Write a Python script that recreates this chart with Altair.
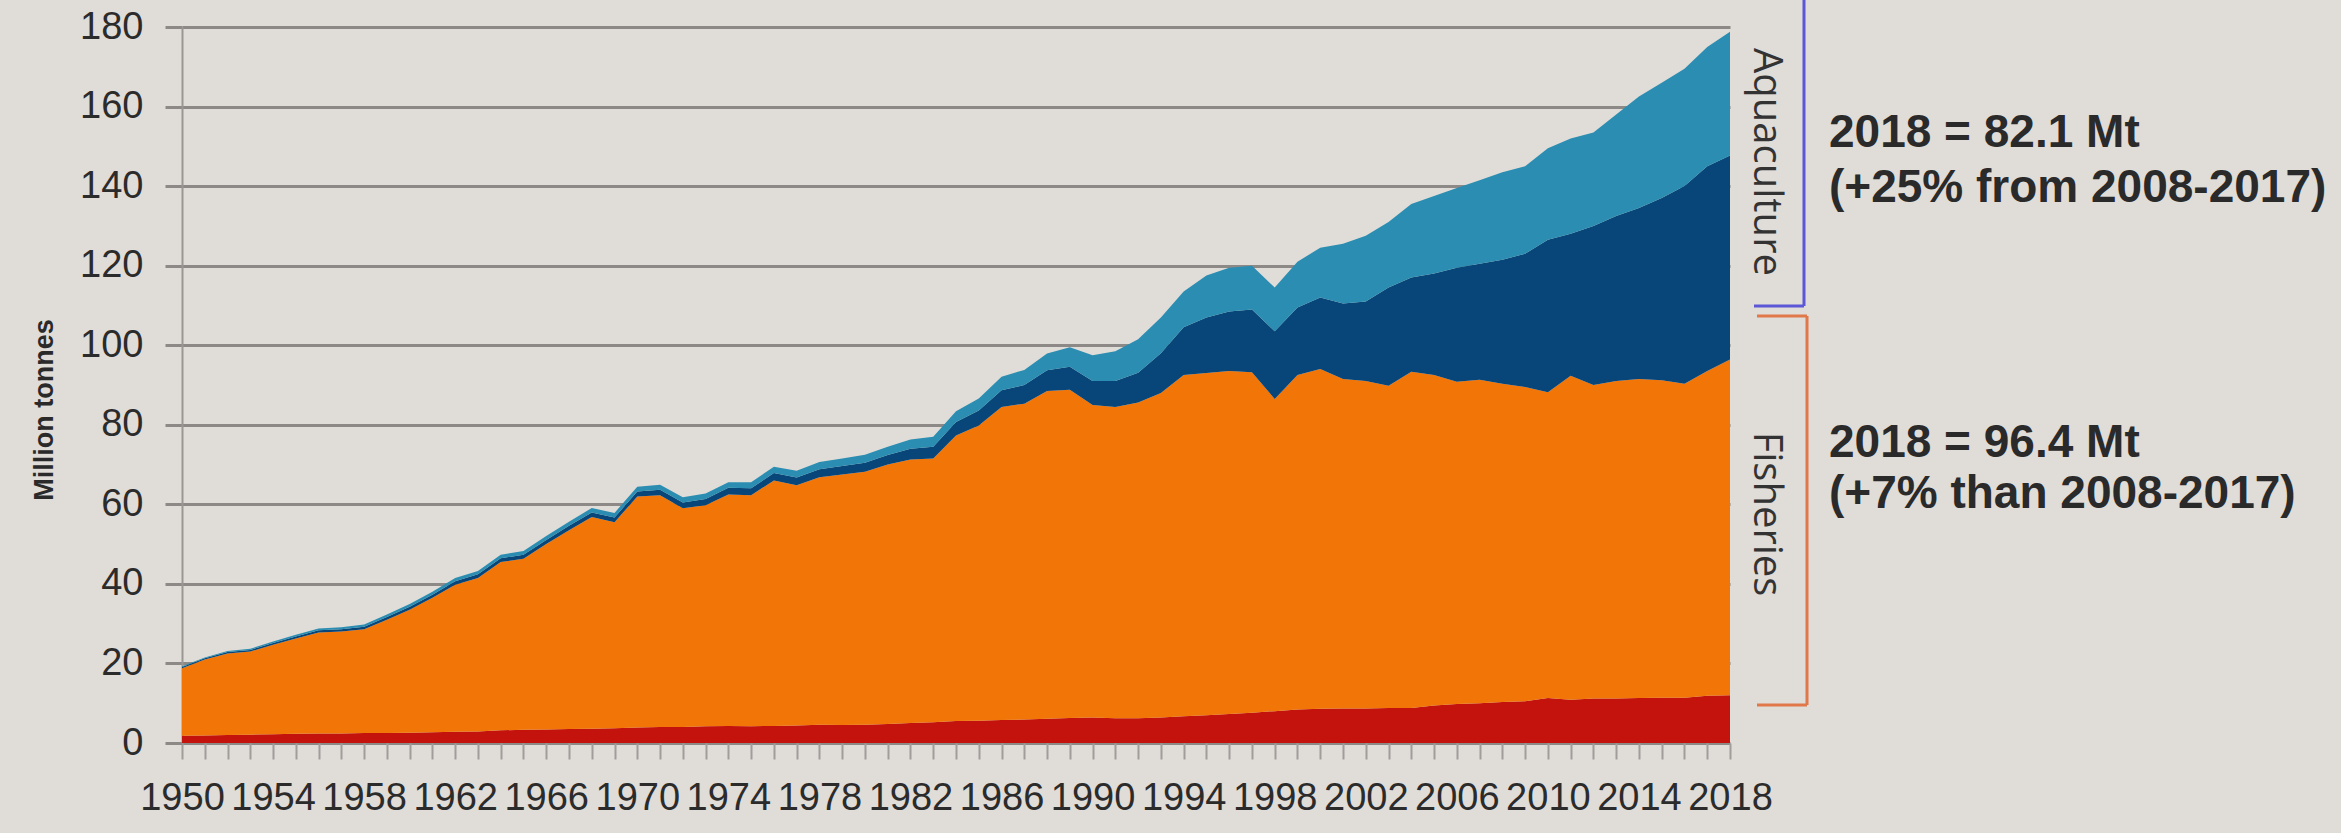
import altair as alt
import pandas as pd

# ---- data (million tonnes) ----
years = list(range(1950, 2019))

# top of inland capture fisheries band (dark red)
inland_capture_top = [
    1.8, 1.9, 2.0, 2.1, 2.2, 2.3, 2.4, 2.4, 2.5, 2.5,
    2.6, 2.7, 2.8, 2.9, 3.2, 3.3, 3.4, 3.5, 3.6, 3.7,
    3.9, 4.0, 4.0, 4.2, 4.3, 4.2, 4.3, 4.4, 4.6, 4.5,
    4.6, 4.8, 5.0, 5.2, 5.5, 5.6, 5.8, 5.9, 6.1, 6.3,
    6.4, 6.2, 6.2, 6.4, 6.7, 7.0, 7.3, 7.6, 8.0, 8.4,
    8.6, 8.7, 8.7, 8.8, 8.8, 9.4, 9.8, 10.0, 10.3, 10.5,
    11.3, 10.9, 11.2, 11.2, 11.3, 11.4, 11.4, 11.9, 12.0,
]

# top of marine capture fisheries band (orange) = total fisheries
capture_top = [
    18.8, 21.0, 22.5, 23.0, 24.7, 26.3, 27.8, 28.0, 28.6, 31.0,
    33.5, 36.5, 39.8, 41.5, 45.5, 46.3, 50.0, 53.5, 56.8, 55.5,
    62.0, 62.3, 59.0, 59.8, 62.5, 62.3, 66.0, 64.8, 66.8, 67.5,
    68.2, 70.0, 71.3, 71.5, 77.3, 79.8, 84.5, 85.3, 88.5, 88.8,
    85.0, 84.5, 85.6, 88.0, 92.5, 93.0, 93.5, 93.2, 86.5, 92.5,
    94.0, 91.5, 91.0, 89.8, 93.3, 92.5, 90.8, 91.3, 90.3, 89.5,
    88.2, 92.3, 90.0, 91.0, 91.5, 91.2, 90.3, 93.5, 96.4,
]

# top of inland aquaculture band (dark blue)
inland_aqua_top = [
    19.1, 21.3, 22.85, 23.4, 25.15, 26.8, 28.35, 28.6, 29.25, 31.7,
    34.25, 37.3, 40.65, 42.4, 46.45, 47.3, 51.05, 54.6, 57.95, 56.7,
    63.25, 63.65, 60.45, 61.35, 64.15, 64.05, 67.85, 66.75, 68.85, 69.65,
    70.45, 72.4, 74.0, 74.5, 80.7, 83.6, 88.7, 90.0, 93.7, 94.6,
    91.0, 91.0, 93.1, 98.0, 104.5, 107.0, 108.5, 109.0, 103.5, 109.5,
    112.0, 110.5, 111.0, 114.5, 117.0, 118.0, 119.5, 120.5, 121.5, 123.0,
    126.5, 128.0, 130.0, 132.5, 134.5, 137.0, 140.0, 145.0, 147.7,
]

# top of marine aquaculture band (teal) = total production
total_top = [
    19.3, 21.5, 23.1, 23.7, 25.5, 27.2, 28.8, 29.1, 29.8, 32.3,
    34.95, 38.05, 41.45, 43.25, 47.35, 48.25, 52.05, 55.65, 59.05, 57.85,
    64.45, 64.9, 61.75, 62.7, 65.55, 65.55, 69.45, 68.45, 70.65, 71.55,
    72.45, 74.5, 76.3, 77.0, 83.4, 86.6, 92.1, 93.8, 97.9, 99.5,
    97.5, 98.5, 101.5, 107.0, 113.5, 117.5, 119.5, 120.0, 114.5, 121.0,
    124.5, 125.5, 127.5, 131.0, 135.5, 137.5, 139.5, 141.5, 143.5, 145.0,
    149.5, 152.0, 153.5, 158.0, 162.5, 166.0, 169.5, 175.0, 178.8,
]

series_names = ["Inland capture", "Marine capture", "Inland aquaculture", "Marine aquaculture"]
series_colors = ["#c4120c", "#f27507", "#08467a", "#2a8db1"]
y_ticks = [0, 20, 40, 60, 80, 100, 120, 140, 160, 180]

annot_aqua = ["2018 = 82.1 Mt", "(+25% from 2008-2017)"]
annot_fish = ["2018 = 96.4 Mt", "(+7% than 2008-2017)"]

# ---- build long table: each band between its lower and upper edge ----
zeros = [0.0] * len(years)
bands = [
    (series_names[0], zeros, inland_capture_top),
    (series_names[1], inland_capture_top, capture_top),
    (series_names[2], capture_top, inland_aqua_top),
    (series_names[3], inland_aqua_top, total_top),
]
rows = []
for name, lo, hi in bands:
    for yr, a, b in zip(years, lo, hi):
        rows.append({"year": yr, "series": name, "lo": a, "hi": b})
df = pd.DataFrame(rows)

NUM_FONT = "Liberation Sans, Arial, sans-serif"
GRID = "#8d8987"

areas = alt.Chart(df).mark_area(interpolate="linear").encode(
    x=alt.X(
        "year:Q",
        scale=alt.Scale(domain=[1950, 2018], nice=False, zero=False),
        axis=alt.Axis(
            values=years,
            format="d",
            labelExpr="datum.value % 4 == 2 ? datum.label : ''",
            labelOverlap=False,
            labelFlush=False,
            labelBound=False,
            labelFont=NUM_FONT,
            labelFontSize=38,
            labelColor="#2b2b2b",
            labelPadding=20,
            tickSize=16,
            tickWidth=2,
            tickColor="#a19d9a",
            domain=False,
            grid=False,
            title=None,
        ),
    ),
    y=alt.Y(
        "hi:Q",
        scale=alt.Scale(domain=[0, 180], nice=False),
        axis=alt.Axis(
            values=y_ticks,
            labelFont=NUM_FONT,
            labelFontSize=38,
            labelColor="#2b2b2b",
            labelPadding=22,
            labelFlush=False,
            tickSize=17,
            tickWidth=3,
            tickColor=GRID,
            grid=True,
            gridColor=GRID,
            gridWidth=3,
            domain=True,
            domainColor="#9a9693",
            domainWidth=2,
            title=None,
        ),
    ),
    y2="lo:Q",
    color=alt.Color(
        "series:N",
        scale=alt.Scale(domain=series_names, range=series_colors),
        legend=None,
    ),
)

one = pd.DataFrame({"k": [0]})


def txt(s, x, y, size, font, weight="normal", angle=0, align="left", color="#2a2a2a"):
    params = dict(text=s, fontSize=size, font=font, fontWeight=weight, align=align,
                  baseline="middle", color=color)
    if angle:
        params["angle"] = angle
    return alt.Chart(one).mark_text(**params).encode(x=alt.value(x), y=alt.value(y))


def rule(x1, x2, y1, y2, color):
    return alt.Chart(one).mark_rule(color=color, strokeWidth=3).encode(
        x=alt.value(x1), x2=alt.value(x2), y=alt.value(y1), y2=alt.value(y2)
    )


BLUE_BR = "#5b57d6"
ORANGE_BR = "#e0784a"
ANN_FONT = "Liberation Sans, Arial, sans-serif"

layers = [
    areas,
    # y-axis title
    txt("Million tonnes", -137, 383, 27, NUM_FONT, weight="bold", angle=270, align="center"),
    # side labels
    txt("Aquaculture", 1584, 135, 40, "Open Sans", angle=90, align="center", color="#333333"),
    txt("Fisheries", 1584, 487, 40, "Open Sans", angle=90, align="center", color="#333333"),
    # brackets
    rule(1622, 1622, -30, 279, BLUE_BR),
    rule(1572, 1622, 279, 279, BLUE_BR),
    rule(1625, 1625, 289, 678, ORANGE_BR),
    rule(1575, 1625, 289, 289, ORANGE_BR),
    rule(1575, 1625, 678, 678, ORANGE_BR),
    # annotations
    txt(annot_aqua[0], 1647, 106, 46, ANN_FONT, weight="bold"),
    txt(annot_aqua[1], 1647, 161, 46, ANN_FONT, weight="bold"),
    txt(annot_fish[0], 1647, 416, 46, ANN_FONT, weight="bold"),
    txt(annot_fish[1], 1647, 467, 46, ANN_FONT, weight="bold"),
]

chart = alt.layer(*layers).properties(
    width=1548,
    height=716,
    autosize=alt.AutoSizeParams(type="none"),
    padding={"left": 182, "top": 27, "right": 611, "bottom": 90},
    background="#e0dcd8",
).configure_view(stroke=None)

chart.save("out.html", embed_options={"renderer": "svg", "actions": False})
